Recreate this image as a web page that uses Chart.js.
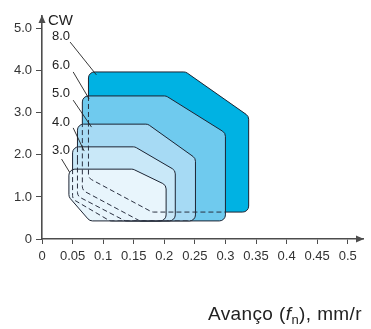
<!DOCTYPE html>
<html><head><meta charset="utf-8">
<script src="https://cdn.jsdelivr.net/npm/chart.js@4.4.0/dist/chart.umd.min.js"></script>
<style>html,body{margin:0;padding:0;background:#fff}</style>
</head><body>
<canvas id="c" width="371" height="329" style="width:371px;height:329px;display:block"></canvas>
<script>
// ---- tick labels ----
const xTicks = [0, 0.05, 0.1, 0.15, 0.2, 0.25, 0.3, 0.35, 0.4, 0.45, 0.5];
const xTickLabels = ['0', '0.05', '0.1', '0.15', '0.2', '0.25', '0.3', '0.35', '0.4', '0.45', '0.5'];
const yTicks = [0, 1, 2, 3, 4, 5];
const yTickLabels = ['0', '1.0', '2.0', '3.0', '4.0', '5.0'];

// ---- area categories (CW values) ----
const cwLabels = ['3.0', '4.0', '5.0', '6.0', '8.0'];

// ---- area outlines (feed fn, depth of cut) ----
const area30X = [0.044, 0.149, 0.203, 0.203, 0.078, 0.044];
const area30Y = [1.66, 1.66, 1.28, 0.43, 0.43, 1.00];
const area40X = [0.050, 0.152, 0.218, 0.218, 0.111, 0.050];
const area40Y = [2.19, 2.19, 1.63, 0.43, 0.43, 0.95];
const area50X = [0.058, 0.173, 0.251, 0.251, 0.136, 0.058];
const area50Y = [2.73, 2.73, 1.92, 0.43, 0.43, 1.02];
const area60X = [0.066, 0.203, 0.300, 0.300, 0.160, 0.066];
const area60Y = [3.40, 3.40, 2.52, 0.43, 0.43, 1.16];
const area80X = [0.076, 0.235, 0.338, 0.338, 0.180, 0.076];
const area80Y = [3.97, 3.97, 2.92, 0.64, 0.64, 1.45];

// ---- label positions and leader lines ----
const labelX = [0.031, 0.031, 0.031, 0.031, 0.031];
const labelY = [2.10, 2.78, 3.47, 4.13, 4.82];
const leaderStartX = [0.032, 0.051, 0.051, 0.051, 0.046];
const leaderStartY = [1.90, 2.64, 3.30, 3.97, 4.68];
const leaderEndX = [0.045, 0.069, 0.081, 0.077, 0.089];
const leaderEndY = [1.59, 2.09, 2.66, 3.33, 3.90];

const fills = ['#e8f5fc', '#c9e8f8', '#a6daf4', '#6fcaee', '#00b2e3'];
const edge = '#1c2433';

const areasX = [area30X, area40X, area50X, area60X, area80X];
const areasY = [area30Y, area40Y, area50Y, area60Y, area80Y];
const zip = (xs, ys) => xs.map((x, i) => ({x, y: ys[i]}));

const datasets = [];
for (let i = 0; i < 5; i++) {
  datasets.push({
    label: 'CW ' + cwLabels[i], data: zip(areasX[i], areasY[i]),
    polygon: true, fillColor: fills[i], borderColor: edge, borderWidth: 1,
    cornerRadius: 6, showLine: true, pointRadius: 0, order: 0
  });
}
for (let i = 1; i < 5; i++) {
  const cover = [];
  for (let j = 0; j < i; j++) cover.push(j);
  datasets.push({
    label: 'hidden ' + cwLabels[i], data: zip(areasX[i], areasY[i]),
    polygon: true, fillColor: null, borderColor: '#2a3040', borderWidth: 1,
    borderDash: [5, 3], cornerRadius: 6, coverBy: cover,
    showLine: true, pointRadius: 0, order: -1
  });
}
for (let i = 0; i < 5; i++) {
  datasets.push({
    label: 'leader ' + cwLabels[i],
    data: [{x: leaderStartX[i], y: leaderStartY[i]}, {x: leaderEndX[i], y: leaderEndY[i]}],
    showLine: true, borderColor: '#222', borderWidth: 0.9, pointRadius: 0, order: -2, fill: false
  });
}

function tracePath(ctx, pts, r) {
  const n = pts.length;
  const a = pts[n - 1], b = pts[0];
  ctx.moveTo((a.x + b.x) / 2, (a.y + b.y) / 2);
  for (let i = 0; i < n; i++) {
    const p = pts[i], q = pts[(i + 1) % n];
    ctx.arcTo(p.x, p.y, q.x, q.y, r);
  }
  ctx.closePath();
}

const roundPoly = {
  id: 'roundPoly',
  beforeDatasetDraw(chart, args) {
    const ds = chart.data.datasets[args.index];
    if (!ds.polygon) return;
    const pts = args.meta.data.map(p => ({x: p.x, y: p.y}));
    const ctx = chart.ctx;
    ctx.save();
    if (ds.coverBy) {
      ctx.beginPath();
      ds.coverBy.forEach(j => {
        const cds = chart.data.datasets[j];
        const cp = chart.getDatasetMeta(j).data.map(p => ({x: p.x, y: p.y}));
        tracePath(ctx, cp, cds.cornerRadius);
      });
      ctx.clip();
    }
    ctx.beginPath();
    tracePath(ctx, pts, ds.cornerRadius);
    if (ds.fillColor) { ctx.fillStyle = ds.fillColor; ctx.fill(); }
    ctx.lineWidth = ds.borderWidth;
    ctx.strokeStyle = ds.borderColor;
    ctx.setLineDash(ds.borderDash || []);
    ctx.stroke();
    ctx.restore();
    return false;
  }
};

const decor = {
  id: 'decor',
  afterDatasetsDraw(chart) {
    const ctx = chart.ctx, xs = chart.scales.x, ys = chart.scales.y, ca = chart.chartArea;
    ctx.save();
    ctx.fillStyle = '#222';
    ctx.font = '13px "Liberation Sans", Arial, sans-serif';
    ctx.textAlign = 'center';
    ctx.textBaseline = 'middle';
    for (let i = 0; i < cwLabels.length; i++) {
      ctx.fillText(cwLabels[i], xs.getPixelForValue(labelX[i]), ys.getPixelForValue(labelY[i]));
    }
    ctx.fillStyle = '#4d4d4d';
    const x0 = xs.getPixelForValue(0), y0 = ys.getPixelForValue(0);
    ctx.beginPath();
    ctx.moveTo(ca.right + 1, y0); ctx.lineTo(ca.right - 7, y0 - 3.5); ctx.lineTo(ca.right - 7, y0 + 3.5);
    ctx.closePath(); ctx.fill();
    ctx.beginPath();
    ctx.moveTo(x0, ca.top - 1); ctx.lineTo(x0 - 3.5, ca.top + 7); ctx.lineTo(x0 + 3.5, ca.top + 7);
    ctx.closePath(); ctx.fill();
    ctx.fillStyle = '#222';
    ctx.textAlign = 'left';
    ctx.font = '15px "Liberation Sans", Arial, sans-serif';
    ctx.fillText('CW', 48, 21);
    ctx.textBaseline = 'alphabetic';
    const fN = '19px "Liberation Sans", Arial, sans-serif';
    const fI = 'italic 19px "Liberation Sans", Arial, sans-serif';
    const fS = '13px "Liberation Sans", Arial, sans-serif';
    const parts = [['Avanço (', fN, 0], ['f', fI, 0], ['n', fS, 4], ['), mm/r', fN, 0]];
    ctx.letterSpacing = '0.4px';
    let w = 0;
    parts.forEach(p => { ctx.font = p[1]; w += ctx.measureText(p[0]).width; });
    let x = 362 - w;
    parts.forEach(p => { ctx.font = p[1]; ctx.fillText(p[0], x, 320 + p[2]); x += ctx.measureText(p[0]).width; });
    ctx.restore();
  }
};

new Chart(document.getElementById('c'), {
  type: 'scatter',
  data: {datasets},
  options: {
    responsive: false, animation: false, devicePixelRatio: 1,
    layout: {padding: {top: 16, right: 8, left: 0, bottom: 0}},
    plugins: {legend: {display: false}, tooltip: {enabled: false}},
    scales: {
      x: {
        type: 'linear', min: 0, max: 0.525,
        afterBuildTicks: s => { s.ticks = xTicks.map(v => ({value: v})); },
        afterFit: s => { s.height = 90; },
        ticks: {callback: (v, i) => xTickLabels[i], font: {family: '"Liberation Sans", Arial', size: 13}, color: '#333', padding: 5, maxRotation: 0, autoSkip: false},
        grid: {display: true, drawOnChartArea: false, drawTicks: true, tickLength: 5, color: '#4d4d4d', lineWidth: 1},
        border: {display: true, color: '#4d4d4d', width: 1.6}
      },
      y: {
        type: 'linear', min: 0, max: 5.3,
        afterBuildTicks: s => { s.ticks = yTicks.map(v => ({value: v})); },
        afterFit: s => { s.width = 42; },
        ticks: {callback: (v, i) => yTickLabels[i], font: {family: '"Liberation Sans", Arial', size: 13}, color: '#333', padding: 4},
        grid: {display: true, drawOnChartArea: false, drawTicks: true, tickLength: 6, color: '#4d4d4d', lineWidth: 1},
        border: {display: true, color: '#4d4d4d', width: 1.6}
      }
    }
  },
  plugins: [roundPoly, decor]
});
</script>
</body></html>
